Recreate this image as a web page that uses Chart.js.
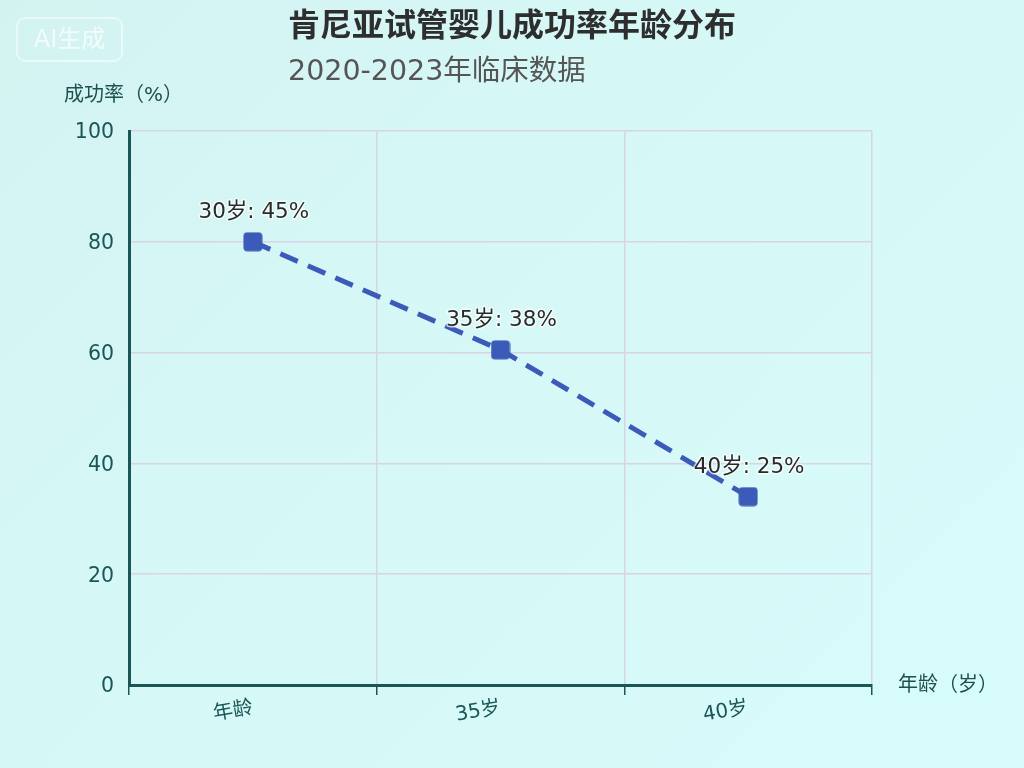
<!DOCTYPE html>
<html>
<head>
<meta charset="utf-8">
<script src="https://cdn.jsdelivr.net/npm/chart.js@4/dist/chart.umd.min.js"></script>
<style>
    html, body {
        margin: 0;
        padding: 0;
    }
    body {
        width: 1024px;
        height: 768px;
        position: relative;
        overflow: hidden;
        background: linear-gradient(135deg, #d3f3f1 0%, #d6f9f8 50%, #d8fcfb 100%);
        font-family: "DejaVu Sans", "Noto Sans CJK SC", sans-serif;
    }
    #wrap {
        position: absolute;
        left: 0;
        top: 0;
        width: 1024px;
        height: 768px;
    }
    .title {
        position: absolute;
        left: 288px;
        top: 0px;
        font-size: 32px;
        line-height: 44px;
        font-weight: bold;
        color: #2e2e2e;
        white-space: nowrap;
        font-family: "Noto Sans CJK SC", sans-serif;
    }
    .subtitle {
        position: absolute;
        left: 288px;
        top: 51px;
        font-size: 28.5px;
        line-height: 40px;
        color: #555;
        white-space: nowrap;
    }
    .mark {
        position: absolute;
        left: 16px;
        top: 17px;
        width: 107px;
        height: 45px;
        border: 2px solid rgba(255, 255, 255, 0.5);
        border-radius: 9px;
        color: rgba(255, 255, 255, 0.7);
        font-size: 24px;
        line-height: 41px;
        text-align: center;
        box-sizing: border-box;
    }
</style>
</head>
<body>
<div id="wrap"><canvas id="chart" width="1024" height="768"></canvas></div>
<div class="mark">AI生成</div>
<div class="title">肯尼亚试管婴儿成功率年龄分布</div>
<div class="subtitle">2020-2023年临床数据</div>
<script>
// 数据
const ageLabels = ["年龄", "35岁", "40岁"];
const successRate = [80, 60.5, 34];
const pointTexts = ["30岁: 45%", "35岁: 38%", "40岁: 25%"];
const yTicks = [0, 20, 40, 60, 80, 100];

const axisColor = "#1b5656";
const lineColor = "#3c5bb8";
const mixFont = "'DejaVu Sans', 'Noto Sans CJK SC', sans-serif";

// 小圆角方块点
function makeMarker() {
    const c = document.createElement("canvas");
    c.width = 20;
    c.height = 20;
    const g = c.getContext("2d");
    g.fillStyle = lineColor;
    g.beginPath();
    g.roundRect(0.5, 0.5, 19, 19, 4);
    g.fill();
    return c;
}

// 轴标题 + 数据标签
const extraText = {
    id: "extraText",
    afterDatasetsDraw(chart) {
        const ctx = chart.ctx;
        const area = chart.chartArea;
        const meta = chart.getDatasetMeta(0);

        ctx.save();
        ctx.font = "21.5px " + mixFont;
        ctx.textAlign = "center";
        ctx.textBaseline = "middle";
        ctx.lineJoin = "round";
        meta.data.forEach((pt, i) => {
            ctx.strokeStyle = "rgba(255,255,255,0.7)";
            ctx.lineWidth = 3;
            ctx.strokeText(pointTexts[i], pt.x + 1, pt.y - 29);
            ctx.fillStyle = "#2a2a2a";
            ctx.fillText(pointTexts[i], pt.x + 1, pt.y - 29);
        });

        ctx.fillStyle = "#1d5050";
        ctx.font = "20px " + mixFont;
        ctx.textAlign = "left";
        ctx.fillText("成功率（%）", 64, area.top - 35);
        ctx.fillText("年龄（岁）", area.right + 26, area.bottom + 1);
        ctx.restore();
    }
};

new Chart(document.getElementById("chart"), {
    type: "line",
    data: {
        labels: ageLabels,
        datasets: [{
            data: successRate,
            borderColor: lineColor,
            backgroundColor: lineColor,
            borderWidth: 5,
            borderDash: [19, 11],
            pointStyle: makeMarker(),
            pointRadius: 10,
            fill: false,
            tension: 0
        }]
    },
    options: {
        responsive: false,
        animation: false,
        devicePixelRatio: 1,
        layout: {
            padding: { left: 0, right: 152, top: 131, bottom: 0 }
        },
        plugins: {
            legend: { display: false },
            tooltip: { enabled: false }
        },
        scales: {
            x: {
                offset: true,
                afterFit(scale) { scale.height = 83; },
                border: { color: axisColor, width: 3 },
                grid: {
                    offset: true,
                    color: "#d8d4e4",
                    lineWidth: 1.5,
                    tickColor: axisColor,
                    tickLength: 10,
                    tickWidth: 1.5
                },
                ticks: {
                    color: axisColor,
                    font: { size: 20, family: mixFont },
                    minRotation: 10,
                    maxRotation: 10,
                    padding: 1
                }
            },
            y: {
                min: 0,
                max: 100,
                afterFit(scale) { scale.width = 129; },
                afterBuildTicks(scale) {
                    scale.ticks = yTicks.map(v => ({ value: v }));
                },
                border: { color: axisColor, width: 3 },
                grid: {
                    color: "#d8d4e4",
                    lineWidth: 1.5,
                    drawTicks: false
                },
                ticks: {
                    color: axisColor,
                    font: { size: 20.5, family: mixFont },
                    padding: 15,
                    labelOffset: 2
                }
            }
        }
    },
    plugins: [extraText]
});
</script>
</body>
</html>
